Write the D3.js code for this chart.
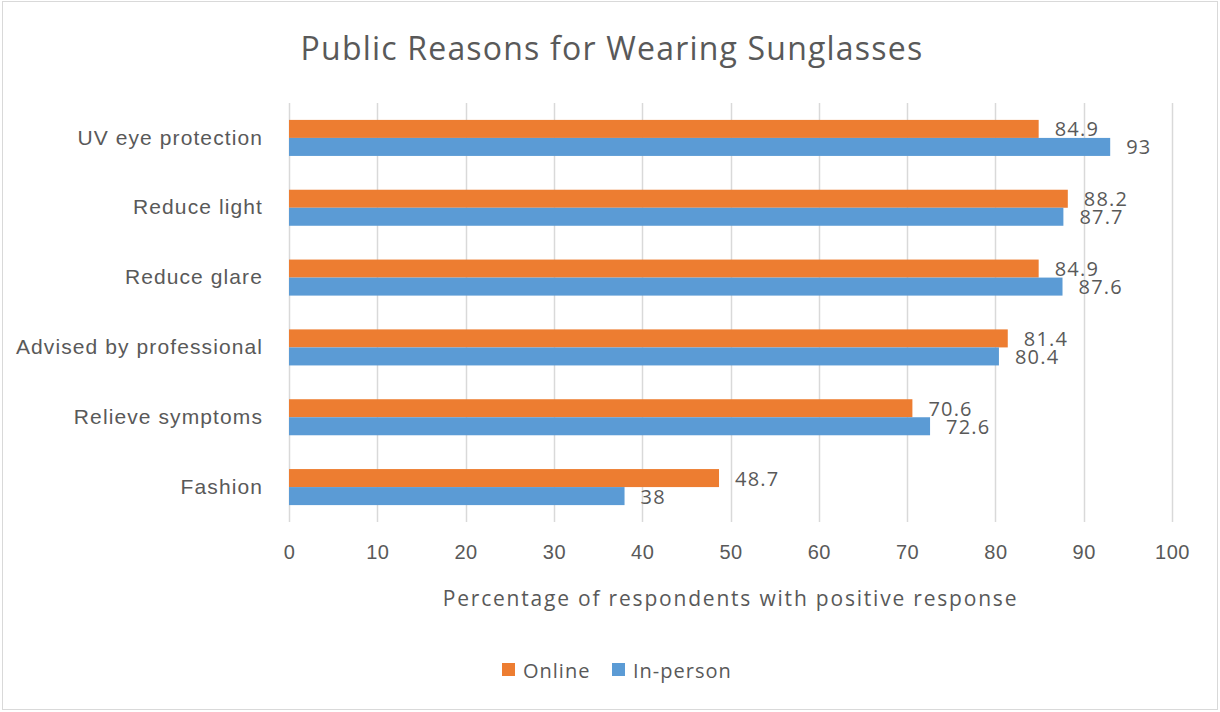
<!DOCTYPE html>
<html>
<head>
<meta charset="utf-8">
<script src="https://cdn.jsdelivr.net/npm/d3@7/dist/d3.min.js"></script>
<style>
  html, body { margin: 0; padding: 0; background: #fff; }
  svg { display: block; font-family: "Open Sans", "Noto Sans", sans-serif; }
</style>
</head>
<body>
<svg id="chart" width="1220" height="712"></svg>
<script>
// Survey reasons, top to bottom
const categories = ["UV eye protection", "Reduce light", "Reduce glare", "Advised by professional", "Relieve symptoms", "Fashion"];
const seriesNames = ["Online", "In-person"];
const onlineValues = [84.9, 88.2, 84.9, 81.4, 70.6, 48.7];
const inPersonValues = [93, 87.7, 87.6, 80.4, 72.6, 38];
const xTicks = [0, 10, 20, 30, 40, 50, 60, 70, 80, 90, 100];

const colors = { "Online": "#ED7D31", "In-person": "#5B9BD5" };
const textColor = "#595959";
const gridColor = "#d9d9d9";

const W = 1220, H = 712;
const margin = { left: 289, right: 48, top: 103, bottom: 190 };
const plotW = W - margin.left - margin.right;
const plotH = H - margin.top - margin.bottom;

const svg = d3.select("#chart");

// chart frame
svg.append("rect")
  .attr("x", 2.5).attr("y", 1.5)
  .attr("width", W - 5).attr("height", H - 4)
  .attr("fill", "#fff").attr("stroke", gridColor).attr("stroke-width", 1);

// title
svg.append("text")
  .attr("x", 612).attr("y", 47)
  .attr("text-anchor", "middle").attr("dominant-baseline", "central")
  .attr("fill", textColor).attr("font-size", 32).attr("letter-spacing", 1.2)
  .text("Public Reasons for Wearing Sunglasses");

const g = svg.append("g").attr("transform", `translate(${margin.left},${margin.top})`);

const x = d3.scaleLinear().domain([0, 100]).range([0, plotW]);
const y = d3.scaleBand().domain(categories).range([0, plotH])
  .paddingInner(0.484).paddingOuter(0.242);
const ySub = d3.scaleBand().domain(seriesNames).range([0, y.bandwidth()]);

// vertical gridlines
g.append("g").selectAll("line").data(xTicks).join("line")
  .attr("x1", d => Math.round(x(d)) + 0.5).attr("x2", d => Math.round(x(d)) + 0.5)
  .attr("y1", 0).attr("y2", plotH)
  .attr("stroke", gridColor).attr("stroke-width", 1.5);

// x axis tick labels
const xAxis = d3.axisBottom(x).tickValues(xTicks).tickSize(0).tickPadding(0).tickFormat(d3.format("d"));
const xg = g.append("g").attr("transform", `translate(0,${plotH + 31})`).call(xAxis);
xg.select(".domain").remove();
xg.selectAll("text").attr("fill", textColor).attr("font-size", 20).attr("letter-spacing", 0.5)
  .attr("font-family", null).attr("dy", "0.32em").attr("y", 0);

// y axis category labels
const yAxis = d3.axisLeft(y).tickSize(0).tickPadding(26);
const yg = g.append("g").call(yAxis);
yg.select(".domain").remove();
yg.selectAll("text").attr("fill", textColor).attr("font-size", 21).attr("letter-spacing", 1.1)
  .attr("font-family", null);

// bars
const rows = categories.map((c, i) => ({
  category: c,
  values: [
    { series: "Online", value: onlineValues[i] },
    { series: "In-person", value: inPersonValues[i] }
  ]
}));

const groups = g.append("g").selectAll("g").data(rows).join("g")
  .attr("transform", d => `translate(0,${y(d.category)})`);

groups.selectAll("rect").data(d => d.values).join("rect")
  .attr("x", 0)
  .attr("y", d => ySub(d.series))
  .attr("width", d => x(d.value))
  .attr("height", ySub.bandwidth())
  .attr("fill", d => colors[d.series]);

// value labels
groups.selectAll("text").data(d => d.values).join("text")
  .attr("x", d => x(d.value) + 16)
  .attr("y", d => ySub(d.series) + ySub.bandwidth() / 2)
  .attr("dominant-baseline", "central")
  .attr("fill", textColor).attr("font-size", 20).attr("letter-spacing", 1.2)
  .text(d => d3.format("~g")(d.value));

// axis title
svg.append("text")
  .attr("x", margin.left + plotW / 2).attr("y", 598)
  .attr("text-anchor", "middle").attr("dominant-baseline", "central")
  .attr("fill", textColor).attr("font-size", 21).attr("letter-spacing", 1.8)
  .text("Percentage of respondents with positive response");

// legend
const legend = svg.append("g").attr("transform", "translate(502,670)");
const legendOffsets = [0, 110];
seriesNames.forEach((s, i) => {
  const lg = legend.append("g").attr("transform", `translate(${legendOffsets[i]},0)`);
  lg.append("rect").attr("x", 0).attr("y", -7).attr("width", 13).attr("height", 13).attr("fill", colors[s]);
  lg.append("text").attr("x", 21).attr("y", 0).attr("dominant-baseline", "central")
    .attr("fill", textColor).attr("font-size", 20).attr("letter-spacing", 1).text(s);
});
</script>
</body>
</html>
